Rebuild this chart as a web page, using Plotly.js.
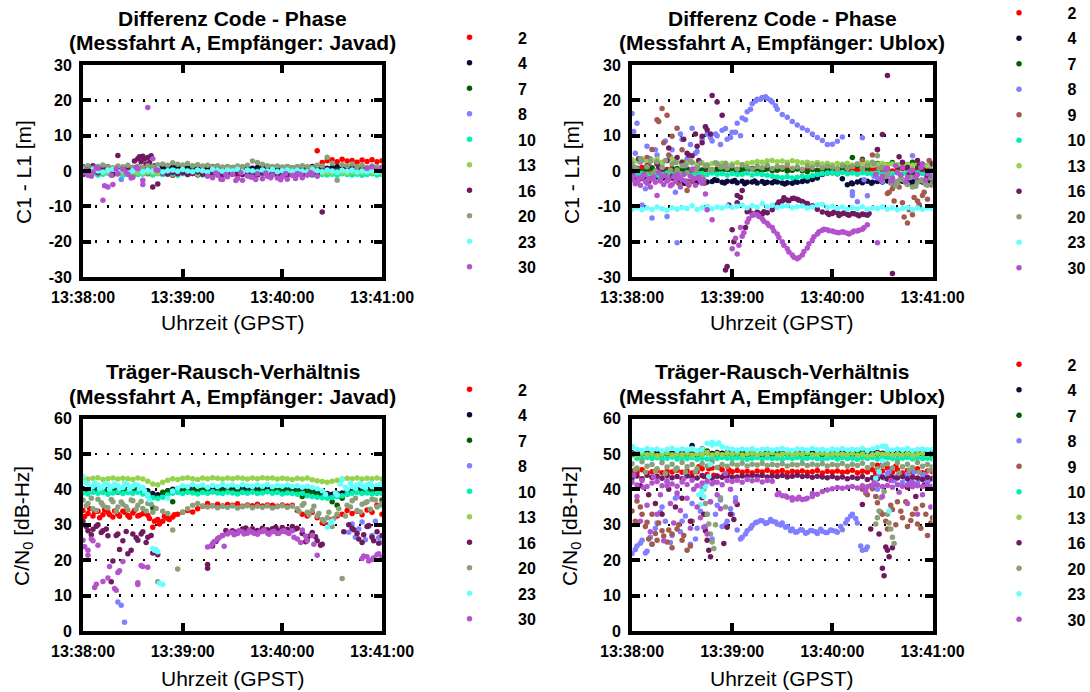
<!DOCTYPE html>
<html><head><meta charset="utf-8">
<script src="https://cdn.plot.ly/plotly-3.0.1.min.js"></script>
<style>html,body{margin:0;padding:0;background:#fff}#chart{width:1090px;height:692px}</style>
</head><body><div id="chart"></div>
<script>
// ---------- shared axes data ----------
const T = [0,3,6,9,12,15,18,21,24,27,30,33,36,39,42,45,48,51,54,57,60,63,66,69,72,75,78,81,84,87,90,93,96,99,102,105,108,111,114,117,120,123,126,129,132,135,138,141,144,147,150,153,156,159,162,165,168,171,174,177,180];
const timeTickVals = [0,60,120,180];
const timeTickLabels = ['13:38:00','13:39:00','13:40:00','13:41:00'];
const cpTickVals = [-30,-20,-10,0,10,20,30];
const cpTickLabels = ['-30','-20','-10','0','10','20','30'];
const cnTickVals = [0,10,20,30,40,50,60];
const cnTickLabels = ['0','10','20','30','40','50','60'];
const satNames = ['2','4','7','8','9','10','13','16','20','23','30'];
const satColors = ['#ff0000','#0b0b3b','#006000','#7f7fff','#a35a4f','#00f0b4','#96d24c','#6f1a5f','#8aa07a','#66ffff','#b452cd'];

// ---------- Panel 1: Code - Phase, Javad ----------
const jcp02 = [-0.6,-0.9,-0.4,-1.0,-0.7,-0.5,-1.1,-0.8,-0.6,-0.9,
 -1.2,-0.7,-0.5,-0.8,-1.0,-0.6,-0.9,-0.7,-1.2,-0.8,
 -0.5,-0.9,-0.7,-1.1,-0.6,-0.8,-1.0,-0.7,-0.9,-0.5,
 -0.8,-1.1,-0.6,-0.9,-0.7,-1.0,-0.8,-0.6,-0.9,-0.7,
 -1.1,-0.8,-0.6,-0.9,-0.7,-0.8,-0.6,5.7,2.4,2.9,
 3.2,2.6,3.3,2.8,3.0,2.5,3.1,2.7,3.2,2.6,
 2.9];
const jcp04 = [1.2,0.8,1.1,0.9,1.3,1.0,0.7,1.2,0.9,1.1,
 1.0,1.3,0.8,1.1,0.9,1.2,1.0,0.8,1.1,1.3,
 0.9,1.0,1.2,0.8,1.1,0.9,1.3,1.0,0.8,1.2,
 1.0,0.9,1.1,1.3,0.8,1.0,1.2,0.9,1.1,0.8,
 1.0,1.2,0.9,1.1,0.8,1.0,1.3,0.9,1.1,0.8,
 1.0,1.2,0.9,0.7,1.1,0.9,1.0,0.8,1.1,0.9,
 1.0];
const jcp07 = [0.2,-0.1,0.3,0.0,0.1,-0.2,0.2,0.0,0.3,-0.1,
 0.1,0.2,-0.1,0.0,0.3,0.1,-0.2,0.2,0.0,0.1,
 -0.1,0.2,0.3,0.0,0.1,-0.2,0.2,0.1,0.0,0.3,
 -0.1,0.1,0.2,0.0,-0.2,0.1,0.3,0.0,0.2,-0.1,
 0.1,0.0,0.2,-0.1,0.3,0.1,0.0,0.2,-0.1,0.1,
 0.0,0.2,0.1,-0.2,0.0,0.1,0.3,-0.1,0.2,0.0,
 0.1];
const jcp08T = [23];
const jcp08V = [-2.4];
const jcp10 = [-0.8,-1.0,-0.7,-1.1,-0.9,-0.6,-1.0,-0.8,-1.2,-0.9,
 -0.7,-1.0,-0.9,-0.6,-1.1,-0.8,-1.0,-0.7,-0.9,-1.2,
 -0.8,-1.0,-0.6,-0.9,-1.1,-0.8,-0.7,-1.0,-0.9,-1.1,
 -0.8,-0.6,-1.0,-0.9,-1.2,-0.8,-1.0,-0.7,-0.9,-1.1,
 -0.8,-1.0,-0.9,-0.7,-1.1,-0.9,-1.2,-0.8,-1.0,-1.1,
 -0.9,-1.2,-0.8,-1.0,-1.1,-0.9,-1.2,-1.0,-0.8,-1.1,
 -1.0];
const jcp13 = [-0.3,-0.5,-0.2,-0.6,-0.4,-0.3,-0.5,-0.2,-0.4,-0.6,
 -0.3,-0.4,-0.5,-0.2,-0.4,-0.6,-0.3,-0.5,-0.4,-0.2,
 -0.5,-0.3,-0.4,-0.6,-0.2,-0.4,-0.5,-0.3,-0.6,-0.4,
 -0.2,-0.5,-0.3,-0.4,-0.6,-0.3,-0.5,-0.4,-0.2,-0.5,
 -0.4,-0.6,-0.3,-0.5,-0.4,-0.2,-0.5,-0.3,-0.6,-0.4,
 -0.5,-0.3,-0.4,-0.6,-0.3,-0.5,-0.4,-0.2,-0.5,-0.3,
 -0.4];
const jcp16 = [-1.0,0.8,1.5,-0.5,0.5,1.2,-0.8,4.4,0.6,1.0,
 0.3,3.5,4.2,3.8,-4.5,-3.7,-0.6,-0.9,-0.4,-0.8,
 -0.5,-1.0,-0.7,-0.3,-0.9,-1.1,-0.6,-0.8,-1.2,-0.5,
 -0.9,-0.7,-1.0,-0.4,-0.8,-1.1,-0.6,-0.9,-0.7,-1.0,
 -0.8,-1.2,-0.9,-0.6,-1.0,-0.8,-1.0,-0.8,-11.6,null,
 null,null,null,null,null,null,null,null,null,null,
 null];
const jcp16xT = [31,34,35,37,38,40,41,43];
const jcp16xV = [2.8,4.0,2.6,3.4,1.9,2.4,4.3,1.5];
const jcp20 = [1.0,1.5,0.8,1.3,1.7,1.1,0.9,1.4,1.2,1.6,
 1.0,1.3,0.9,1.5,1.2,1.8,2.0,1.6,2.3,1.9,
 1.7,2.1,1.5,1.8,1.4,1.6,1.2,1.5,1.1,1.3,
 1.0,1.4,1.2,1.6,2.8,2.4,1.9,1.5,1.2,1.4,
 1.1,1.3,1.0,1.2,1.5,1.3,1.0,1.6,1.4,3.9,
 2.2,-2.6,1.8,1.4,2.0,1.2,1.6,1.0,1.4,1.2,
 1.1];
const jcp23 = [0.3,-0.2,0.4,0.0,-0.3,0.2,0.5,-0.1,0.3,-0.4,
 0.1,0.4,-0.2,0.2,0.0,0.5,-0.3,0.1,0.3,-0.1,
 0.4,0.0,-0.2,0.3,0.1,-0.3,0.4,0.2,-0.1,0.3,
 0.0,0.5,-0.2,0.2,0.1,-0.3,0.3,0.0,0.4,-0.2,
 0.1,0.3,-0.1,0.2,0.0,-0.3,0.4,0.1,-0.2,0.3,
 0.0,-0.4,0.2,-0.1,0.3,-0.3,0.0,-0.2,0.1,-0.4,
 -0.1];
const jcp30 = [-0.5,-1.2,-0.3,0.8,-8.3,-4.5,-3.8,-0.8,0.5,-1.0,
 -1.8,0.6,-3.8,18.0,3.5,0.2,null,null,null,null,
 null,null,null,null,null,-1.5,-1.9,-1.2,-2.4,-1.6,
 -0.9,-2.1,-2.6,-1.4,-1.8,-0.8,-2.2,-1.5,-1.1,-2.0,
 -1.6,-2.3,-1.3,-0.7,-1.9,-1.2,-0.9,-1.5,null,null,
 null,null,null,null,null,null,null,0.8,1.2,0.3,
 0.9];
const jcp30xT = [2,5,8,13,17,20,26,29,32,36,44,80,83,86,92,95,101,104,110,113,119,122,128,131,137];
const jcp30xV = [0.4,-1.5,0.9,-4.2,-1.2,0.6,-0.4,-2.0,1.0,-2.6,0.3,-0.6,-2.3,-1.0,-2.7,-0.5,-1.7,-2.4,-0.6,-1.9,-2.5,-0.7,-2.1,-1.0,-0.4];

// ---------- Panel 2: Code - Phase, Ublox ----------
const ucp02 = [0.5,0.2,1.0,-0.3,0.6,2.4,0.1,0.4,0.8,-0.2,
 0.3,0.6,0.0,0.9,0.2,0.5,-0.1,0.7,0.3,0.4,
 0.6,0.1,0.8,0.2,0.5,0.0,0.3,0.9,0.4,0.2,
 1.0,0.5,0.3,0.7,0.1,0.4,0.6,0.2,0.5,0.3,
 0.0,0.6,0.4,-0.2,0.5,0.3,0.8,0.1,0.4,0.6,
 0.2,0.5,0.0,0.4,0.7,0.3,0.1,0.5,0.2,0.6,
 0.3];
const ucp04 = [-1.8,-2.2,-1.9,-2.3,-2.0,-1.7,-2.1,-2.4,-2.0,-2.2,
 -2.7,-3.0,-2.9,-3.2,-2.8,-3.1,-3.0,-2.7,-3.2,-2.9,
 -3.0,-3.3,-2.9,-3.2,-3.1,-3.4,-3.0,-3.2,-3.3,-3.1,
 -3.4,-3.3,-3.5,-3.2,-3.0,-2.8,-2.4,-2.0,-1.0,-0.6,
 -0.5,-0.8,-2.2,-3.9,-3.6,-3.1,-3.3,-2.9,-3.2,-3.0,
 -3.1,-2.8,-3.3,-3.0,-2.9,-3.2,-3.0,-2.8,-3.1,-2.9,
 -3.0];
const ucp04xT = [31.5,37.5,43.5,49.5,55.5,61.5,67.5,73.5,79.5,85.5,91.5,97.5,103.5,131.5,137.5,143.5,149.5,155.5,161.5,167.5,173.5,179];
const ucp04xV = [-3.5,-2.6,-3.4,-2.5,-3.4,-2.7,-3.6,-2.8,-3.5,-2.9,-3.7,-3.0,-2.6,-3.4,-2.7,-3.5,-2.6,-3.4,-2.7,-3.5,-2.6,-3.3];
const ucp07 = [0.3,0.8,-0.2,0.5,0.9,0.1,0.6,-0.1,0.4,0.7,
 0.2,0.5,0.0,0.6,0.3,0.8,-0.2,0.4,0.1,0.6,
 0.3,0.0,0.5,0.2,0.7,-0.1,0.4,0.6,0.1,0.3,
 0.5,0.0,0.2,0.6,0.3,-0.2,0.4,0.1,0.7,0.3,
 0.0,0.5,0.8,1.2,3.8,1.5,3.3,0.9,1.6,2.1,
 1.4,1.8,2.4,1.2,2.0,1.6,2.5,1.3,1.9,1.5,
 2.2];
const ucp08 = [16.3,13.5,-9.6,7.0,-13.3,4.5,2.0,-12.9,6.0,-20.3,
 8.9,3.5,12.1,5.5,9.0,10.5,8.5,10.0,11.5,9.0,
 11.0,13.5,15.0,16.8,19.0,20.3,20.8,20.5,19.5,17.5,
 16.0,15.2,14.0,13.0,12.2,11.5,10.5,9.5,8.6,7.5,
 7.6,8.4,9.6,null,-5.9,-8.7,9.4,-7.0,null,-2.0,
 -3.0,-1.3,null,null,null,null,4.3,null,null,null,
 null];
const ucp08xT = [1,2,5,8,11,14,17,20,23,26,29,32,35,38,41,44,47,50,53,56,59,62,65,68,71,74,77,80,83,86,132,139,145,150,158,165,172,176];
const ucp08xV = [11.2,5.0,2.5,-5.0,3.5,6.0,-2.0,8.5,4.0,-6.0,10.5,1.5,7.5,5.0,-1.0,12.5,9.5,10.5,7.5,12.0,9.5,11.0,10.0,14.5,17.5,19.8,20.3,21.0,20.0,18.5,-6.9,-2.5,-1.5,-2.5,-3.5,-0.5,2.0,-1.0];
const ucp09 = [1.5,0.5,-1.0,3.8,6.1,14.5,17.7,15.8,9.8,12.1,
 6.0,-5.5,-3.0,1.0,-1.5,null,null,null,null,null,
 null,null,null,null,null,null,null,null,null,null,
 null,null,null,null,null,null,null,null,null,null,
 null,null,null,null,null,null,3.0,1.5,4.5,6.0,
 -2.0,-6.4,-5.0,-3.0,-9.0,-14.7,-12.4,-8.5,-6.9,-8.0,
 -4.0];
const ucp09xT = [4,10,13,16,19,22,25,28,31,34,37,40,43,150,154,157,160,163,166,169,172,175,178];
const ucp09xV = [-2.5,2.0,-0.5,14.0,8.0,4.5,-1.0,-3.5,2.5,-4.0,0.5,-2.0,-3.5,0.5,-6.0,-8.5,-4.5,-13.0,-11.0,-7.5,-9.5,-6.0,3.0];
const ucp10 = [-0.6,-1.0,-0.7,-0.9,-0.5,-1.1,-0.8,-0.6,-1.0,-0.7,
 -0.9,-0.6,-1.1,-0.8,-0.7,-1.0,-0.6,-0.9,-0.8,-1.1,
 -0.7,-1.0,-0.9,-0.6,-1.1,-0.8,-1.0,-1.2,-1.5,-1.7,
 -1.9,-1.6,-2.0,-1.8,-1.5,-1.7,-1.3,-1.0,-0.8,-0.6,
 -0.5,-0.7,-0.4,-0.8,-0.6,-0.9,-0.5,-0.7,-0.8,-0.6,
 -0.9,-0.5,-0.7,-0.4,-0.8,-0.6,-0.9,-0.5,-0.7,-0.6,
 -0.8];
const ucp13 = [3.2,2.8,3.5,2.6,3.0,3.4,2.5,2.9,3.3,2.4,
 2.7,2.2,2.5,2.0,2.3,1.8,2.1,1.9,2.2,1.7,
 2.0,2.3,1.8,2.2,2.4,2.7,2.5,2.9,3.0,2.6,
 2.8,2.5,2.9,2.6,2.3,2.5,2.1,2.4,2.0,2.2,
 1.8,2.1,1.9,2.2,1.7,2.0,1.8,2.3,1.6,1.9,
 2.1,1.7,2.0,1.8,1.5,1.9,1.6,2.0,1.7,1.5,
 1.8];
const ucp16 = [-1.0,0.5,-2.0,1.5,-0.5,2.0,0.5,3.0,-1.5,3.8,
 2.4,5.0,4.3,7.0,9.8,11.7,21.4,19.5,15.8,-27.0,
 -16.6,-6.9,-5.5,-11.5,-12.0,-11.6,-12.2,-11.8,-11.0,-9.5,
 -8.5,-8.2,-7.8,-8.0,-8.6,-9.2,-9.8,-10.8,-11.6,-11.9,
 -12.0,-11.8,-12.1,-12.3,-12.0,-12.4,-12.2,-12.5,null,6.1,
 10.3,27.0,-29.0,null,2.5,1.0,-0.5,3.0,0.5,-1.5,
 2.0];
const ucp16xT = [4,10,16,22,28,31,34,38,40,42,44,47,56,58,61,63,65,68,70,73,76,79,85,88,91,94,97,100,103,118,121,124,127,130,133,136,139,142,160,166,172,176];
const ucp16xV = [3.5,-3.0,1.0,6.5,-2.5,9.0,4.5,10.5,3.0,8.0,12.5,10.5,-28.0,-9.6,-20.0,-9.0,-7.5,-16.0,-11.0,-12.4,-12.0,-11.5,-10.0,-8.8,-7.6,-8.4,-7.7,-8.3,-9.0,-12.3,-11.7,-12.6,-11.9,-12.5,-12.1,-12.7,-12.3,-12.0,4.0,-1.0,1.5,-2.5];
const ucp20 = [2.2,0.5,3.0,1.2,-0.8,2.6,1.0,-1.5,2.0,0.3,
 1.5,-0.5,2.3,1.0,-1.8,1.6,0.4,2.1,1.2,0.8,
 1.5,0.6,1.8,1.1,0.5,1.4,0.9,1.6,0.7,1.3,
 1.0,1.7,0.8,1.2,0.5,1.5,1.0,1.8,0.9,1.4,
 1.1,0.6,1.5,0.8,1.3,2.0,0.7,1.6,2.5,4.3,
 1.0,-0.5,-2.0,-3.0,-2.5,-3.8,-4.5,-3.2,-2.8,-4.0,
 -3.5];
const ucp20xT = [2,5,8,11,14,17,20,23,26,29,32,35,38,41,44,47,50,53,56,145,148,152,155,158,161,164,167,170,173,176,179];
const ucp20xV = [1.0,3.5,-1.0,2.8,0.0,-2.5,3.0,0.2,2.5,-0.8,1.8,2.8,0.0,2.2,1.5,0.4,2.3,1.1,2.2,2.0,0.8,-1.5,-3.5,-4.2,-2.2,-3.4,-1.8,-4.3,-2.6,-3.8,-2.0];
const ucp23 = [-10.8,-10.3,-11.0,-10.5,-10.9,-10.2,-10.7,-11.1,-10.4,-10.8,
 -10.3,-10.6,-9.8,-10.9,-10.4,-10.0,-10.7,-10.2,-10.5,-9.9,
 -10.3,-10.0,-9.6,-10.4,-9.8,-10.2,-9.3,-10.1,-9.7,-10.3,
 -10.0,-9.8,-10.4,-10.1,-9.9,-10.5,-10.2,-9.6,-9.4,-10.3,
 -10.0,-10.6,-10.2,-10.8,-10.4,-10.7,-10.1,-10.9,-10.5,-10.6,
 -10.2,-10.8,-10.4,-11.0,-10.6,-10.3,-10.9,-10.5,-10.8,-10.4,
 -10.7];
const ucp30 = [-2.5,-3.0,-1.8,-3.5,-2.2,-6.9,-1.5,-2.8,-3.8,-1.0,
 -2.5,-3.2,0.5,-2.0,-3.5,-11.0,-13.8,null,null,null,
 -22.0,-23.5,-18.5,-14.5,-12.5,-12.4,-13.5,-14.8,-16.0,-17.8,
 -20.0,-22.0,-23.8,-24.8,-23.8,-21.8,-19.5,-17.8,-16.8,-16.6,
 -17.0,-17.4,-17.2,-17.6,-17.3,-17.0,-16.5,-15.2,null,-20.3,
 -1.5,0.8,-2.0,-0.5,1.0,-1.8,0.3,-1.0,2.0,-0.8,
 -1.5];
const ucp30xT = [1,2,4,5,7,8,10,11,13,14,16,17,19,20,22,23,25,26,28,29,31,32,34,35,37,38,40,41,43,44,62,64,65,67,70,73,76,79,82,85,88,91,94,97,100,103,106,109,112,115,118,121,124,127,130,133,136,139,146,149,152,155,158,161,164,167,170,173,176,179];
const ucp30xV = [-1.5,-3.6,-2.0,-4.0,-1.0,-3.0,-2.2,-4.5,-1.8,-3.2,-0.5,-2.8,-3.8,-1.2,-2.4,-4.2,-1.6,-3.0,-2.0,-4.5,-1.0,-2.8,-3.6,-1.5,-2.2,-4.0,-1.8,-3.0,-2.5,-6.5,-19.0,-21.0,-16.0,-17.5,-13.5,-12.2,-12.9,-14.2,-15.4,-17.0,-18.8,-21.0,-22.9,-24.4,-24.5,-22.8,-20.6,-18.6,-17.2,-16.5,-16.9,-17.2,-17.5,-17.3,-17.8,-17.0,-16.8,-16.0,-1.0,-2.5,0.5,-2.8,1.5,-1.2,-3.0,0.0,-1.8,1.0,-2.6,0.2];

// ---------- Panel 3: C/N0, Javad ----------
const jcn02 = [34.0,33.2,32.5,33.8,32.8,33.5,32.2,33.0,33.8,32.6,
 33.3,32.5,33.1,32.7,29.3,31.5,31.0,31.8,32.2,33.0,
 33.5,34.0,33.6,34.5,35.2,36.0,35.4,35.8,35.3,35.7,
 35.5,35.9,35.2,35.6,35.4,35.8,35.3,35.6,35.5,35.2,
 35.6,35.3,35.5,34.0,33.0,32.5,33.5,32.0,30.5,30.0,
 31.5,32.5,33.0,34.0,33.2,33.8,32.8,34.2,33.5,35.5,
 33.0];
const jcn02xT = [1,4,7,10,13,16,19,22,25,28,31,34,37,40,43,46,49,52,55];
const jcn02xV = [32.3,34.5,33.6,32.0,34.2,32.8,33.9,32.4,33.5,32.1,34.0,32.7,33.4,31.8,31.0,30.2,32.4,31.5,32.8];
const jcn04 = [40.2,39.8,40.1,40.3,39.9,40.0,40.2,39.7,40.1,40.0,
 39.8,40.2,40.0,39.6,38.8,38.5,39.0,39.6,40.0,40.2,
 39.9,40.1,40.3,40.0,39.8,40.2,40.4,40.1,39.9,40.3,
 40.0,40.2,40.4,40.1,39.8,40.2,40.0,40.3,40.1,39.9,
 40.2,40.0,39.8,39.9,40.1,39.7,39.5,39.2,38.9,38.8,
 38.6,38.8,39.0,39.5,39.8,40.1,40.0,40.2,39.9,40.1,
 40.0];
const jcn07 = [39.5,39.8,39.3,39.7,39.4,39.9,39.5,39.2,39.6,39.8,
 39.4,39.7,39.3,39.0,34.8,37.8,39.2,39.5,36.5,39.6,
 39.8,39.4,39.7,39.5,39.9,39.6,39.3,39.8,39.5,39.7,
 39.4,39.8,39.6,39.3,39.7,39.5,39.9,39.4,39.6,39.8,
 39.5,39.7,39.3,39.6,38.0,39.4,39.0,38.5,38.2,37.8,
 36.5,35.5,37.5,38.6,39.2,39.5,39.3,39.7,39.5,39.0,
 37.0];
const jcn08T = [21,23,25,160,162,164,166,168,170,172,174,176,178,180];
const jcn08V = [8.2,7.3,2.5,27.9,30.2,26.5,28.8,30.8,25.8,29.5,27.0,31.0,26.3,25.0];
const jcn10 = [39.0,38.7,39.2,38.9,39.1,38.6,39.0,39.3,38.8,39.1,
 38.9,39.2,38.7,38.2,37.6,37.4,37.8,38.5,38.9,39.1,
 38.8,39.2,39.0,38.7,39.1,38.9,39.3,39.0,38.8,39.2,
 39.0,38.7,39.1,38.9,39.2,38.8,39.0,39.3,38.9,39.1,
 38.7,39.0,38.8,38.6,38.9,38.2,38.0,37.8,37.6,37.5,
 37.7,37.9,38.2,38.6,38.9,39.1,38.8,39.0,38.7,39.0,
 38.8];
const jcn13 = [43.2,42.9,43.1,43.3,42.8,43.0,43.2,42.9,43.1,43.0,
 42.8,43.2,42.9,42.3,41.5,41.3,42.0,42.6,43.0,42.8,
 43.1,43.3,43.0,42.8,43.2,43.0,43.3,43.1,42.9,43.2,
 43.0,43.3,43.1,42.9,43.2,43.0,43.3,43.1,43.2,42.9,
 43.1,43.0,42.8,43.1,42.9,43.2,42.7,42.4,42.2,42.0,
 42.3,42.6,42.9,43.1,43.0,43.2,42.9,43.1,43.0,43.2,
 42.9];
const jcn16 = [31.0,28.3,28.7,30.0,28.3,26.9,19.8,27.4,25.5,21.8,
 27.4,25.6,28.0,26.5,22.0,21.5,null,null,null,null,
 null,null,null,null,null,18.8,24.0,26.0,27.0,27.8,
 28.3,28.0,28.8,28.5,28.9,28.4,29.0,28.6,28.9,28.5,
 29.2,28.7,29.5,29.0,27.5,26.0,27.8,25.5,24.5,null,
 null,null,null,null,29.0,27.5,25.0,29.5,26.5,28.0,
 27.0];
const jcn16xT = [2,5,8,11,14,17,20,22,26,29,32,35,38,41,44,75,80,86,92,98,104,110,116,122,128,134,137,140,143,157,160,163,166,169,172,175,178];
const jcn16xV = [29.5,27.2,29.6,27.8,28.8,13.9,27.0,23.0,28.1,22.8,26.3,27.4,25.0,27.0,22.6,17.7,25.3,28.4,27.6,29.1,28.0,28.4,29.3,28.1,28.8,25.2,27.0,26.6,24.2,28.0,30.0,28.6,26.0,27.2,29.8,25.5,24.8];
const jcn20 = [37.0,36.0,34.5,37.2,35.5,34.8,36.5,35.0,35.8,34.2,
 36.8,35.5,34.6,36.0,33.5,13.9,33.8,33.2,28.5,17.5,
 33.5,34.5,35.5,36.0,35.3,35.0,35.4,34.8,35.2,34.9,
 35.3,34.7,35.1,35.4,34.8,35.2,34.9,35.3,34.7,35.1,
 35.4,34.9,35.2,34.5,35.5,33.5,34.0,32.5,31.5,32.0,
 29.5,33.0,14.8,35.5,36.8,34.0,35.8,36.5,37.2,35.0,
 36.0];
const jcn20xT = [2,5,8,11,14,17,20,23,26,29,32,35,38,41,44,130,133,136,139,142,145,148,151,154,158,161,164,167,170,173,176,179];
const jcn20xV = [35.4,37.5,34.0,36.2,34.9,37.1,33.8,36.4,35.1,37.0,34.4,36.6,33.9,35.8,34.6,33.8,36.0,32.8,35.2,33.2,31.0,33.5,31.8,34.5,32.5,35.0,37.5,33.6,36.2,34.4,37.0,35.6];
const jcn23 = [43.6,41.5,40.8,41.2,40.6,41.4,40.9,41.1,40.5,41.3,
 40.8,41.2,40.6,38.5,23.3,22.4,13.1,37.5,39.5,40.4,
 41.0,40.7,41.3,40.9,41.2,40.6,41.1,40.8,41.4,40.9,
 41.2,40.7,41.3,41.0,40.8,41.2,40.9,41.3,40.7,41.1,
 40.9,41.2,40.8,41.0,40.6,40.9,40.5,40.2,39.6,29.3,
 31.0,38.5,42.8,40.0,40.8,41.2,40.9,41.3,40.8,41.1,
 40.9];
const jcn23xT = [40,43,44,46,1,4,7,10,13,16,19,22,25,28,31,34,37,146,149,152,155,158,161,164,167,170,173,176,179];
const jcn23xV = [37.0,22.8,23.0,13.5,42.0,40.1,41.8,40.2,41.6,40.0,41.5,40.3,41.7,40.1,41.4,40.2,39.5,38.6,30.5,39.0,41.5,40.6,41.8,40.3,41.6,40.4,41.7,40.5,41.4];
const jcn30 = [25.6,21.4,25.5,24.2,14.0,15.0,null,null,19.6,null,
 null,13.6,18.2,18.0,null,null,null,null,null,null,
 null,null,null,null,null,23.7,24.7,26.0,27.0,27.4,
 27.8,27.5,28.0,27.6,27.9,27.3,28.1,27.7,28.0,27.5,
 28.2,27.8,28.3,26.0,28.5,25.5,27.0,21.4,null,null,
 null,null,null,null,null,null,20.5,21.0,20.2,21.5,
 20.8];
const jcn30xT = [1,3,5,7,8,16,19,20,21,22,33,35,77,79,82,85,88,91,94,97,100,103,106,109,112,115,118,121,124,127,131,134,139,169,172,175,178];
const jcn30xV = [23.8,22.8,26.0,12.3,13.2,18.2,12.0,11.5,16.5,17.0,13.1,18.5,24.0,25.3,26.4,23.9,27.9,27.2,28.3,27.4,28.4,27.6,27.9,28.5,27.3,28.2,27.6,28.4,27.5,26.5,25.0,26.8,24.5,21.2,19.8,20.7,21.8];

// ---------- Panel 4: C/N0, Ublox ----------
const ucn02 = [45.2,44.8,45.5,44.6,45.0,45.3,44.7,45.1,44.9,45.4,
 44.8,45.2,44.6,45.0,45.8,44.2,46.0,43.8,45.5,44.5,
 45.0,45.3,44.8,45.1,44.7,45.2,44.9,45.4,44.8,45.0,
 45.3,44.7,45.1,44.9,45.2,44.8,45.0,45.3,44.6,45.1,
 44.9,45.2,44.8,45.0,45.4,44.7,45.1,44.9,45.5,46.8,
 45.2,46.0,44.8,45.5,44.6,45.3,44.9,45.8,44.7,45.2,
 45.0];
const ucn02xT = [40,43,46,49,52,55,58,146,150,154,158];
const ucn02xV = [46.4,43.6,45.8,44.0,46.2,43.9,45.5,44.5,47.0,43.8,46.5];
const ucn04 = [50.3,50.1,50.4,50.2,50.5,50.3,50.0,50.4,50.2,50.3,
 50.1,50.5,52.4,50.2,51.4,50.3,50.1,50.4,50.2,50.5,
 50.3,50.0,50.4,50.2,50.3,50.1,50.5,50.2,50.4,50.3,
 50.1,50.4,50.2,50.3,50.5,50.1,50.3,50.2,50.4,50.0,
 50.3,50.2,50.4,50.1,50.3,50.5,50.2,50.0,50.3,50.4,
 50.2,50.3,50.1,50.4,50.2,50.3,50.5,50.1,50.3,50.2,
 50.4];
const ucn07 = [49.8,49.6,50.0,49.7,49.9,49.5,49.8,50.1,49.7,49.9,
 49.6,49.8,50.0,49.7,49.9,50.8,49.6,49.8,49.7,50.0,
 49.8,49.6,49.9,49.7,50.0,49.8,49.6,49.9,49.7,49.8,
 50.0,49.7,49.9,49.6,49.8,50.0,49.7,49.9,49.8,49.6,
 49.9,49.7,50.0,49.8,49.6,49.9,50.5,51.0,49.7,49.9,
 49.8,50.6,49.7,49.9,49.6,49.8,50.0,49.7,49.9,49.8,
 49.7];
const ucn08 = [21.9,24.0,25.6,22.5,24.5,30.5,35.0,42.0,27.0,38.0,
 31.0,44.0,36.0,29.0,40.5,33.0,26.0,35.5,29.5,31.0,
 33.0,28.5,26.5,28.3,29.8,30.8,31.1,30.6,31.0,30.2,
 30.5,29.5,28.8,28.0,28.5,27.8,28.3,27.5,28.2,27.8,
 28.4,27.9,28.6,31.5,33.0,30.5,22.8,23.7,null,40.0,
 43.5,44.5,42.5,43.8,42.0,44.2,43.0,41.8,43.5,42.5,
 43.2];
const ucn08xT = [2,5,8,11,14,17,20,23,26,29,32,35,38,41,44,47,50,53,56,59,62,65,68,71,74,77,80,83,86,89,92,95,98,101,104,107,110,113,116,119,122,125,128,131,134,137,140,145,148,151,154,157,160,163,166,169,172,175,178];
const ucn08xV = [23.0,24.8,22.0,26.5,29.0,33.5,31.0,25.0,37.5,28.0,32.5,24.5,26.0,33.8,29.5,36.5,33.0,37.0,30.0,34.5,37.6,26.0,27.4,29.0,30.6,31.2,30.4,31.5,30.8,29.9,29.3,28.3,27.9,28.6,27.6,28.4,28.0,28.7,27.8,28.5,28.2,29.5,30.5,32.5,31.8,24.0,23.0,42.8,44.5,43.2,45.0,42.4,44.0,43.5,42.2,44.8,43.0,44.2,42.6];
const ucn09 = [33.9,36.7,33.0,30.7,33.0,25.6,28.3,25.1,27.4,28.8,
 25.6,22.8,31.0,null,null,null,null,null,null,null,
 null,null,null,null,null,null,null,null,null,null,
 null,null,null,null,null,null,null,null,null,null,
 null,null,null,null,null,null,40.0,38.5,40.2,36.2,
 33.0,28.8,34.3,36.5,32.0,29.5,33.0,30.2,35.5,27.0,
 32.0];
const ucn09xT = [2,5,8,10,12,14,16,19,22,24,28,31,35,140,143,146,149,152,155,158,161,164,167,170,173,176,179];
const ucn09xV = [31.0,35.0,29.5,26.0,24.5,27.5,30.5,26.8,28.5,23.5,30.0,27.0,24.0,39.0,41.0,38.0,33.5,31.0,35.5,30.0,33.8,36.5,31.2,34.5,29.0,33.0,30.5];
const ucn10 = [52.0,48.8,48.6,49.0,48.7,48.9,48.5,48.8,49.1,48.6,
 48.9,48.7,49.0,48.5,48.8,48.6,48.9,48.7,49.0,48.8,
 48.6,48.9,48.7,48.5,48.8,49.0,48.6,48.9,48.7,48.8,
 48.5,48.9,48.7,49.0,48.6,48.8,48.9,48.7,48.5,48.8,
 49.0,48.6,48.9,48.7,48.8,48.5,48.9,48.7,49.0,48.6,
 48.8,48.9,48.7,48.5,48.8,49.0,48.6,48.9,48.7,48.8,
 48.6];
const ucn13 = [50.0,49.6,50.2,49.8,50.1,49.5,49.9,50.3,49.7,50.0,
 49.8,50.2,49.6,50.0,49.9,50.4,49.7,50.1,49.8,50.2,
 49.9,50.3,49.7,50.0,50.2,49.8,50.1,49.9,50.3,49.7,
 50.0,50.2,49.8,50.1,49.9,50.3,49.8,50.0,50.2,49.7,
 50.1,49.9,50.0,49.8,50.2,49.6,50.0,49.5,49.8,50.1,
 49.9,50.2,49.7,50.0,49.8,50.1,49.6,49.9,50.2,49.8,
 50.0];
const ucn16 = [43.2,43.8,43.0,44.0,43.4,43.7,43.1,43.9,43.3,43.6,
 43.0,43.8,43.4,43.2,43.9,43.5,43.1,43.7,43.4,43.8,
 43.5,43.5,43.8,43.6,44.0,43.7,43.9,43.5,43.8,43.6,
 43.9,43.5,43.7,44.0,43.6,43.8,43.4,43.7,43.5,43.3,
 43.6,43.2,43.5,43.0,43.4,43.1,43.6,42.8,43.3,43.0,
 43.5,42.9,43.4,43.2,43.6,43.0,43.5,43.2,42.8,43.4,
 43.0];
const ucn16xT = [42,43,44,45,46,47,55,57,59,61,63,5,10,14,18,22,26,30,35,138,143,148,150,151,152,153,154,156,165,170,175];
const ucn16xV = [37.6,33.0,28.3,25.6,22.8,21.0,24.7,29.3,33.0,31.5,35.7,41.0,38.5,36.0,33.0,40.0,35.0,37.5,31.0,35.7,28.8,27.4,17.7,15.6,23.7,22.8,21.0,23.5,40.5,38.0,41.2];
const ucn20 = [47.2,46.0,47.8,46.5,47.0,45.8,47.5,46.3,47.1,46.0,
 47.6,46.4,47.0,45.9,47.3,46.6,47.8,46.2,47.0,46.5,
 47.2,46.8,47.4,46.6,47.1,46.9,47.3,46.7,47.0,46.8,
 47.2,46.6,47.0,46.9,47.3,46.7,47.1,46.8,47.2,46.6,
 47.0,46.8,47.3,46.5,47.1,46.7,47.4,46.2,47.0,45.8,
 46.6,47.2,46.0,47.5,46.4,47.1,46.2,47.6,46.5,47.0,
 46.4];
const ucn20xT = [43,44,45,46,47,48,49,50,53,56,146,147,148,149,151,153,154,155,156,157,2,8,14,20,26,32,38,160,166,172,178];
const ucn20xV = [40.0,36.0,33.0,30.2,27.4,25.1,23.3,30.0,37.6,35.0,30.2,32.0,33.9,37.6,39.4,33.0,30.5,28.8,26.5,24.7,45.5,44.8,45.2,44.5,45.6,44.9,45.0,44.6,45.4,44.8,45.3];
const ucn23 = [52.0,51.3,51.0,51.5,51.2,51.4,50.9,51.3,51.6,51.1,
 51.4,51.2,51.5,51.0,51.3,53.0,52.5,52.8,52.0,51.6,
 51.3,51.1,51.4,51.2,51.5,51.0,51.3,51.4,51.1,51.3,
 51.5,51.2,51.0,51.4,51.3,51.1,51.5,51.2,51.3,51.0,
 51.4,51.2,51.5,51.1,51.3,51.2,51.6,51.0,51.4,51.8,
 52.2,51.3,51.1,51.4,51.2,51.5,51.0,51.3,51.4,51.2,
 51.3];
const ucn23xT = [40,41,42,43,44,45,46,47,48,52,146,147,148,150,152,154];
const ucn23xV = [38.5,35.7,39.4,38.0,40.8,42.0,43.6,47.0,53.3,53.1,43.1,41.3,45.0,48.0,52.2,33.9];
const ucn30 = [42.0,41.2,42.5,40.8,41.8,42.2,41.0,42.4,41.5,40.9,
 42.1,41.4,42.6,41.0,41.8,42.3,41.6,42.0,41.3,42.5,
 42.2,42.6,42.0,42.8,42.4,42.7,42.1,42.5,42.3,38.5,
 38.2,37.8,37.6,37.3,37.1,37.5,38.0,38.6,39.4,39.8,
 40.2,40.5,40.3,40.6,40.8,40.4,41.0,40.7,40.9,41.2,
 40.8,41.1,40.6,41.3,40.9,41.2,40.7,41.0,40.8,41.3,
 40.9];
const ucn30xT = [1,3,5,7,9,11,13,15,17,19,21,23,25,27,29,31,33,35,37,39,41,43,45,47,49,51,53,56,59,62,88,92,96,100,104,108,140,145,150,155,160,165,168,171,174,177,179];
const ucn30xV = [44.0,38.0,31.0,40.5,35.5,28.0,43.5,33.0,38.5,25.5,41.0,36.0,30.5,39.0,34.0,43.0,37.5,29.0,40.0,35.0,32.0,29.3,27.4,36.5,42.0,38.5,34.5,44.5,40.0,36.5,39.0,38.1,37.0,37.8,37.3,38.8,39.5,41.8,38.0,42.5,39.2,36.0,41.8,33.0,38.5,40.5,35.0];

// ---------- build ----------
const FONT = 'Liberation Sans, Arial, Helvetica, sans-serif';
const panels = [
  {xa:'x', ya:'y', lg:'legend', series:[
    ['2',jcp02],['4',jcp04],['7',jcp07],['8',null,jcp08T,jcp08V],['10',jcp10],['13',jcp13],
    ['16',jcp16,jcp16xT,jcp16xV],['20',jcp20],['23',jcp23],['30',jcp30,jcp30xT,jcp30xV]]},
  {xa:'x2', ya:'y2', lg:'legend2', series:[
    ['2',ucp02],['4',ucp04,ucp04xT,ucp04xV],['7',ucp07],['8',ucp08,ucp08xT,ucp08xV],['9',ucp09,ucp09xT,ucp09xV],
    ['10',ucp10],['13',ucp13],['16',ucp16,ucp16xT,ucp16xV],['20',ucp20,ucp20xT,ucp20xV],['23',ucp23],['30',ucp30,ucp30xT,ucp30xV]]},
  {xa:'x3', ya:'y3', lg:'legend3', series:[
    ['2',jcn02,jcn02xT,jcn02xV],['4',jcn04],['7',jcn07],['8',null,jcn08T,jcn08V],['10',jcn10],['13',jcn13],
    ['16',jcn16,jcn16xT,jcn16xV],['20',jcn20,jcn20xT,jcn20xV],['23',jcn23,jcn23xT,jcn23xV],['30',jcn30,jcn30xT,jcn30xV]]},
  {xa:'x4', ya:'y4', lg:'legend4', series:[
    ['2',ucn02,ucn02xT,ucn02xV],['4',ucn04],['7',ucn07],['8',ucn08,ucn08xT,ucn08xV],['9',ucn09,ucn09xT,ucn09xV],
    ['10',ucn10],['13',ucn13],['16',ucn16,ucn16xT,ucn16xV],['20',ucn20,ucn20xT,ucn20xV],['23',ucn23,ucn23xT,ucn23xV],['30',ucn30,ucn30xT,ucn30xV]]}
];
const traces = [];
panels.forEach((p, pi) => {
  p.series.forEach(([sat, main, xt, xv]) => {
    const color = satColors[satNames.indexOf(sat)];
    const base = {type:'scatter', mode:'markers', xaxis:p.xa, yaxis:p.ya, legend:p.lg,
      legendgroup:'p'+pi+'_'+sat, name:sat, hoverinfo:'skip',
      marker:{color:color, size:5.5, line:{width:0}}};
    let shown = false;
    if (main) { traces.push(Object.assign({}, base, {x:T, y:main, showlegend:true})); shown = true; }
    if (xt) { traces.push(Object.assign({}, base, {x:xt, y:xv, showlegend:!shown})); }
  });
});

const tickFont = {family:FONT, size:16, weight:'bold', color:'#000'};
function xAx(domain, anchor) {
  return {domain, anchor, range:[0,180], tickmode:'array', tickvals:timeTickVals, ticktext:timeTickLabels,
    ticks:'inside', ticklen:8, tickwidth:4, tickcolor:'#000', showline:true, linewidth:4, linecolor:'#000',
    mirror:'ticks', showgrid:false, zeroline:false, tickfont:tickFont, ticklabelstandoff:3, fixedrange:true};
}
function yAx(domain, anchor, vals, labels) {
  return {domain, anchor, range:[vals[0], vals[vals.length-1]], tickmode:'array', tickvals:vals, ticktext:labels,
    ticks:'inside', ticklen:8, tickwidth:4, tickcolor:'#000', showline:true, linewidth:4, linecolor:'#000',
    mirror:'ticks', showgrid:true, gridcolor:'#000', gridwidth:2.5, griddash:'2px,10px', zeroline:false,
    tickfont:tickFont, ticklabelstandoff:4, fixedrange:true};
}
function leg(x, y) {
  return {x, y, xanchor:'left', yanchor:'top', xref:'paper', yref:'paper', bgcolor:'rgba(0,0,0,0)', borderwidth:0,
    font:{family:FONT, size:16, weight:'bold', color:'#000'}, itemwidth:87, traceorder:'grouped', tracegroupgap:1.7,
    itemclick:false, itemdoubleclick:false};
}
function ann(text, x, y, size, weight, angle) {
  return {text, x, y, xref:'paper', yref:'paper', xanchor:'center', yanchor:'middle', showarrow:false,
    textangle:angle||0, font:{family:FONT, size, weight, color:'#000'}};
}
const W = 1090, H = 692;
const px = v => v / W, py = v => 1 - v / H;
const leftDom = [px(83), px(382)], rightDom = [px(632), px(932.5)];
const topDom = [py(277), py(65)], botDom = [py(631), py(418.5)];
const leftC = px(232.5), rightC = px(782);
const annotations = [
  ann('Differenz Code - Phase', leftC, py(18), 21, 'bold'),
  ann('(Messfahrt A, Empfänger: Javad)', leftC, py(43), 21, 'bold'),
  ann('Differenz Code - Phase', rightC, py(18), 21, 'bold'),
  ann('(Messfahrt A, Empfänger: Ublox)', rightC, py(43), 21, 'bold'),
  ann('Träger-Rausch-Verhältnis', leftC, py(371), 21, 'bold'),
  ann('(Messfahrt A, Empfänger: Javad)', leftC, py(396), 21, 'bold'),
  ann('Träger-Rausch-Verhältnis', rightC, py(371), 21, 'bold'),
  ann('(Messfahrt A, Empfänger: Ublox)', rightC, py(396), 21, 'bold'),
  ann('Uhrzeit (GPST)', leftC, py(322), 21, 'normal'),
  ann('Uhrzeit (GPST)', rightC, py(322), 21, 'normal'),
  ann('Uhrzeit (GPST)', leftC, py(678), 21, 'normal'),
  ann('Uhrzeit (GPST)', rightC, py(678), 21, 'normal'),
  ann('C1 - L1 [m]', px(23), py(172), 21, 'normal', -90),
  ann('C1 - L1 [m]', px(571), py(172), 21, 'normal', -90),
  ann('C/N<sub>0</sub> [dB-Hz]', px(23), py(526), 21, 'normal', -90),
  ann('C/N<sub>0</sub> [dB-Hz]', px(571), py(526), 21, 'normal', -90)
];
const layout = {
  width:W, height:H, margin:{l:0, r:0, t:0, b:0, autoexpand:false},
  paper_bgcolor:'#ffffff', plot_bgcolor:'#ffffff', font:{family:FONT, color:'#000'},
  showlegend:true, hovermode:false,
  xaxis:xAx(leftDom,'y'), yaxis:yAx(topDom,'x',cpTickVals,cpTickLabels),
  xaxis2:xAx(rightDom,'y2'), yaxis2:yAx(topDom,'x2',cpTickVals,cpTickLabels),
  xaxis3:xAx(leftDom,'y3'), yaxis3:yAx(botDom,'x3',cnTickVals,cnTickLabels),
  xaxis4:xAx(rightDom,'y4'), yaxis4:yAx(botDom,'x4',cnTickVals,cnTickLabels),
  legend:leg(px(421), py(20.4)), legend2:leg(px(970.5), py(-4.2)),
  legend3:leg(px(421), py(372.4)), legend4:leg(px(970.5), py(347.4)),
  annotations
};
Plotly.newPlot('chart', traces, layout, {displayModeBar:false, staticPlot:true});
</script></body></html>
